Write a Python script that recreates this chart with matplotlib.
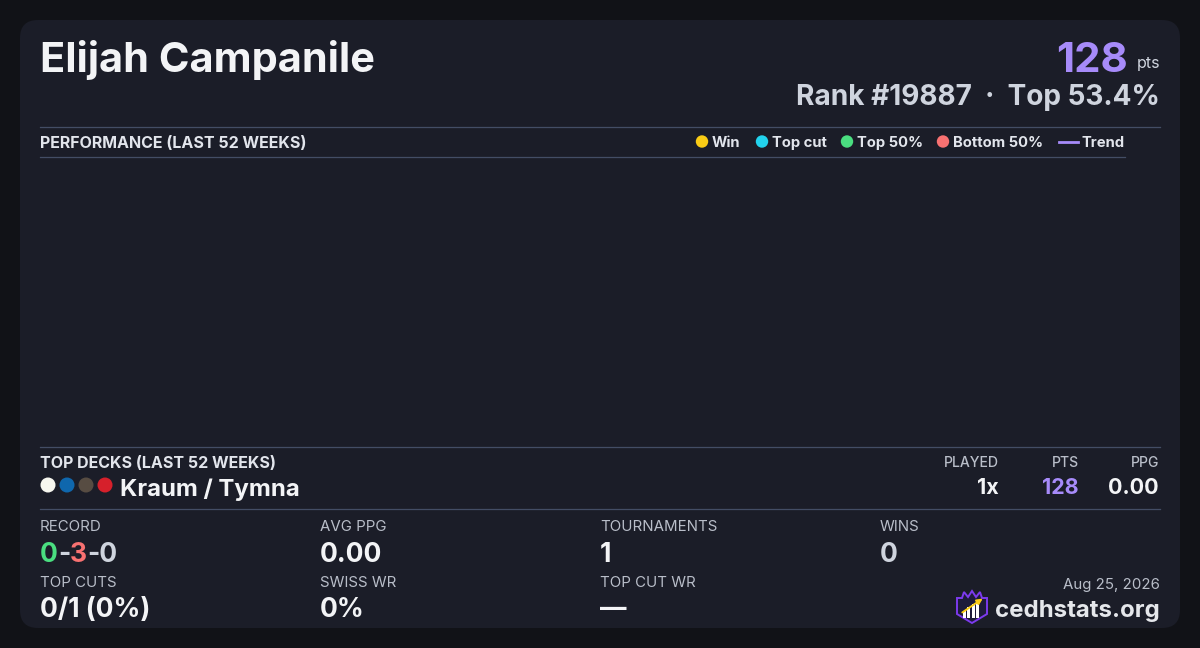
import matplotlib
matplotlib.use("Agg")
import matplotlib.pyplot as plt
from matplotlib.patches import FancyBboxPatch, Circle, Polygon, Rectangle
from matplotlib.lines import Line2D

# ---------------- data ----------------
player_name = "Elijah Campanile"
points = "128"
rank_text = "Rank #19887  ·  Top 53.4%"
perf_title = "PERFORMANCE (LAST 52 WEEKS)"
legend_labels = ["Win", "Top cut", "Top 50%", "Bottom 50%", "Trend"]
legend_colors = ["#facc15", "#22d3ee", "#4ade80", "#f87171", "#a78bfa"]
decks_title = "TOP DECKS (LAST 52 WEEKS)"
deck_name = "Kraum / Tymna"
deck_colors = ["#f7f7ef", "#0f67ad", "#574c42", "#d6202b"]
deck_cols = ["PLAYED", "PTS", "PPG"]
deck_vals = ["1x", "128", "0.00"]
stat_labels_row1 = ["RECORD", "AVG PPG", "TOURNAMENTS", "WINS"]
stat_values_row1 = ["0-3-0", "0.00", "1", "0"]
stat_labels_row2 = ["TOP CUTS", "SWISS WR", "TOP CUT WR"]
stat_values_row2 = ["0/1 (0%)", "0%", "—"]
date_text = "Aug 25, 2026"
site_text = "cedhstats.org"

# ---------------- style ----------------
OUTER = "#111217"
CARD = "#1b1d28"
LINE = "#434d65"
WHITE = "#f3f4f6"
LIGHT = "#cfd4de"
GREY = "#b9bec9"
PURPLE = "#a78bfa"
FONT = ["Inter", "DejaVu Sans"]

def px(s):
    return s * 0.72

fig = plt.figure(figsize=(12, 6.48), dpi=100, facecolor=OUTER)
ax = fig.add_axes([0, 0, 1, 1])
ax.set_xlim(0, 1200)
ax.set_ylim(648, 0)
ax.axis("off")
ax.set_facecolor(OUTER)

card = FancyBboxPatch((20, 20), 1160, 608, boxstyle="round,pad=0,rounding_size=18",
                      fc=CARD, ec="none", zorder=0)
ax.add_patch(card)

def txt(x, y, s, size, color=WHITE, weight="normal", ha="left"):
    return ax.text(x, y, s, fontsize=px(size), color=color, fontweight=weight,
                   ha=ha, va="baseline", family=FONT, zorder=3)

# header
txt(40, 72, player_name, 41.5, WHITE, "bold")
txt(1160, 68, "pts", 16, LIGHT, "normal", ha="right")
txt(1128, 72, points, 42, PURPLE, "bold", ha="right")
txt(1160, 105, rank_text, 28, LIGHT, "bold", ha="right")

# divider lines
for (x0, x1, y) in [(40, 1160, 126.5), (40, 1125, 156.5), (40, 1160, 446.5), (40, 1160, 508.5)]:
    ax.add_line(Line2D([x0, x1], [y, y], color=LINE, lw=0.9, zorder=2))

# performance header + legend
txt(40, 148, perf_title, 16, "#e2e5ec", "bold")
marker_x = [702, 762, 847, 943]
for i in range(4):
    ax.add_patch(Circle((marker_x[i], 141.5), 6.2, fc=legend_colors[i], ec="none", zorder=3))
    txt(marker_x[i] + 10, 147, legend_labels[i], 14.8, "#e2e5ec", "bold")
ax.add_line(Line2D([1059, 1078], [141.5, 141.5], color=legend_colors[4], lw=2, zorder=3))
txt(1081, 147, legend_labels[4], 14.8, "#e2e5ec", "bold")

# empty performance chart area
perf_ax = fig.add_axes([40 / 1200, 1 - 446 / 648, 1085 / 1200, 290 / 648])
perf_ax.set_facecolor("none")
perf_ax.set_xticks([])
perf_ax.set_yticks([])
for sp in perf_ax.spines.values():
    sp.set_visible(False)

# top decks
txt(40, 468, decks_title, 16, "#e2e5ec", "bold")
for i, c in enumerate(deck_colors):
    ax.add_patch(Circle((48 + i * 19, 485), 7.5, fc=c, ec="none", zorder=3))
txt(120, 496, deck_name, 24, WHITE, "bold")
col_x = [999, 1079, 1159]
val_colors = [WHITE, PURPLE, WHITE]
for i in range(3):
    txt(col_x[i], 467, deck_cols[i], 14, GREY, "medium", ha="right")
    txt(col_x[i], 494, deck_vals[i], 21.5, val_colors[i], "bold", ha="right")

# stats grid
stat_x = [40, 320, 600, 880]
for i, lab in enumerate(stat_labels_row1):
    txt(stat_x[i], 531, lab, 15, GREY)
for i, lab in enumerate(stat_labels_row2):
    txt(stat_x[i], 587, lab, 15, GREY)

# record with coloured parts
w, l, d = stat_values_row1[0].split("-")
t = txt(40, 562, w, 26.5, "#4ade80", "bold")
fig.canvas.draw()
r = fig.canvas.get_renderer()
def advance(tobj):
    bb = tobj.get_window_extent(renderer=r)
    return bb.x1
x = advance(t)
t = txt(x, 562, "-", 26.5, LIGHT, "bold"); x = advance(t)
t = txt(x, 562, l, 26.5, "#f87171", "bold"); x = advance(t)
txt(x, 562, "-" + d, 26.5, LIGHT, "bold")

txt(320, 562, stat_values_row1[1], 26.5, WHITE, "bold")
txt(600, 562, stat_values_row1[2], 26.5, WHITE, "bold")
txt(880, 562, stat_values_row1[3], 26.5, LIGHT, "bold")
for i, v in enumerate(stat_values_row2):
    txt(stat_x[i], 617, v, 26.5, WHITE, "bold")

# footer
txt(1160, 589, date_text, 15, GREY, ha="right")
txt(1160, 617, site_text, 24, "#e5e7eb", "bold", ha="right")

# logo
shield = Polygon([(957, 598), (962, 598), (964, 592), (968, 597), (972, 591), (976, 597),
                  (980, 592), (982, 598), (987, 598), (987, 614), (972, 623), (957, 614)],
                 closed=True, fc="#1e1b3a", ec="#7c3aed", lw=1.4, zorder=3)
ax.add_patch(shield)
for bx, top in [(962.5, 611), (967, 607), (971.5, 604), (976, 601)]:
    ax.add_patch(Rectangle((bx, top), 3.0, 618 - top, fc="white", ec="none", zorder=4))
ax.annotate("", xy=(985, 597), xytext=(960, 614),
            arrowprops=dict(arrowstyle="-|>", color="#facc15", lw=1.4, mutation_scale=8), zorder=5)

fig.savefig("out.png", dpi=100, facecolor=OUTER)
